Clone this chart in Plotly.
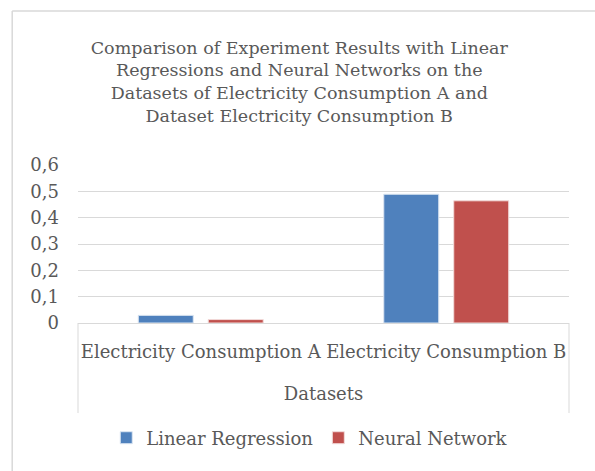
import plotly.graph_objects as go

categories = ["Electricity Consumption A", "Electricity Consumption B"]
linear_regression = [0.029, 0.489]
neural_network = [0.013, 0.464]
y_ticks = [0, 0.1, 0.2, 0.3, 0.4, 0.5, 0.6]
y_tick_labels = ["0", "0,1", "0,2", "0,3", "0,4", "0,5", "0,6"]

FONT = "DejaVu Serif"
GREY = "#595959"
LINE = "#D9D9D9"

fig = go.Figure()
fig.add_trace(go.Bar(name="Linear Regression", x=categories, y=linear_regression,
                     marker=dict(color="#4F81BD", line=dict(color="#DCE6F2", width=1))))
fig.add_trace(go.Bar(name="Neural Network", x=categories, y=neural_network,
                     marker=dict(color="#C0504D", line=dict(color="#F2DCDB", width=1))))

fig.update_layout(
    width=595, height=471,
    margin=dict(l=78, r=26, t=165, b=148, autoexpand=False),
    paper_bgcolor="white", plot_bgcolor="white",
    font=dict(family=FONT, color=GREY, size=18),
    barmode="group", bargap=0.43, bargroupgap=0.214,
    title=dict(text="Comparison of Experiment Results with Linear<br>Regressions and Neural Networks on the<br>"
                    "Datasets of Electricity Consumption A and<br>Dataset Electricity Consumption B",
               x=0.503, xanchor="center", y=0.886, yanchor="top",
               font=dict(family=FONT, size=17.5, color=GREY)),
    legend=dict(orientation="h", x=0.472, xanchor="center", y=-0.728, yanchor="middle",
                font=dict(size=18, color=GREY)),
    showlegend=True,
)
fig.update_yaxes(range=[0, 0.6], tickvals=y_ticks, ticktext=y_tick_labels,
                 showgrid=True, gridcolor=LINE, gridwidth=1,
                 zeroline=False, showline=False, ticks="", ticklabelstandoff=18)
fig.update_xaxes(showline=True, linecolor=LINE, linewidth=1, ticks="",
                 ticklabelstandoff=12,
                 title=dict(text="Datasets", standoff=26, font=dict(size=18, color=GREY)))
# category-frame verticals below the axis
for xd in (0, 1):
    fig.add_shape(type="line", xref="x domain", yref="paper", x0=xd, x1=xd,
                  y0=0, y1=-0.57, line=dict(color=LINE, width=1))
# chart border (left and top edges visible)
fig.add_shape(type="line", xref="paper", yref="paper", x0=-0.134, x1=-0.134, y0=-1.0, y1=1.975,
              line=dict(color=LINE, width=1.5))
fig.add_shape(type="line", xref="paper", yref="paper", x0=-0.134, x1=1.1, y0=1.975, y1=1.975,
              line=dict(color=LINE, width=1.5))
fig.write_html("out.html", config={"displayModeBar": False},
               post_script="document.body.style.margin='0';")
